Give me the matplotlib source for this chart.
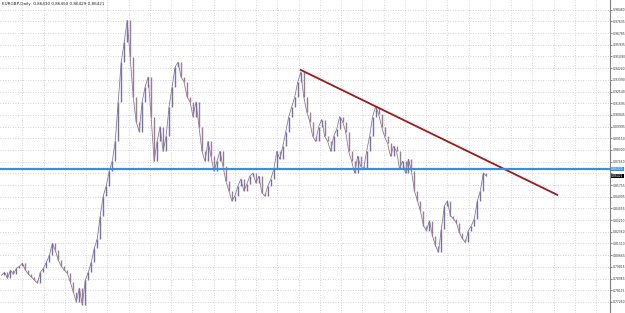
import matplotlib
matplotlib.use("Agg")
import matplotlib.pyplot as plt
import numpy as np

# ---- data ----
closes = [
    0.7920, 0.7942, 0.7899, 0.7956, 0.7928, 0.7971, 0.7985, 0.8007, 0.7956, 0.7928,
    0.7906, 0.7884, 0.7863, 0.7942, 0.7971, 0.8014, 0.8064, 0.8151, 0.8100, 0.8028,
    0.7985, 0.7956, 0.7935, 0.7870, 0.7798, 0.7726, 0.7827, 0.7704, 0.7884, 0.7942,
    0.8014, 0.8115, 0.8187, 0.8352, 0.8496, 0.8568, 0.8676, 0.8748, 0.8892, 0.9180,
    0.9468, 0.9612, 0.9771, 0.9504, 0.9216, 0.9036, 0.8964, 0.9180, 0.9288, 0.9360,
    0.9072, 0.8748, 0.8892, 0.9000, 0.8820, 0.8928, 0.9144, 0.9288, 0.9432, 0.9468,
    0.9360, 0.9324, 0.9216, 0.9180, 0.9072, 0.9180, 0.9000, 0.8820, 0.8748, 0.8892,
    0.8784, 0.8676, 0.8748, 0.8820, 0.8712, 0.8604, 0.8532, 0.8460, 0.8496, 0.8568,
    0.8619, 0.8532, 0.8583, 0.8640, 0.8662, 0.8590, 0.8640, 0.8518, 0.8496, 0.8568,
    0.8619, 0.8691, 0.8820, 0.8763, 0.8856, 0.8964, 0.9072, 0.9144, 0.9216, 0.9324,
    0.9396, 0.9216, 0.9108, 0.9036, 0.8928, 0.8892, 0.9000, 0.9051, 0.8928, 0.8892,
    0.8820, 0.8928, 0.8979, 0.9072, 0.9036, 0.8964, 0.8820, 0.8748, 0.8662, 0.8784,
    0.8712, 0.8691, 0.8820, 0.8928, 0.9072, 0.9144, 0.9094, 0.9000, 0.8928, 0.8878,
    0.8784, 0.8856, 0.8820,
    0.8691, 0.8748, 0.8662, 0.8763, 0.8676, 0.8532, 0.8460, 0.8388, 0.8280, 0.8244,
    0.8316, 0.8208, 0.8136, 0.8086, 0.8259, 0.8424, 0.8460, 0.8352, 0.8331, 0.8302,
    0.8230, 0.8187, 0.8158, 0.8244, 0.8280, 0.8331, 0.8460, 0.8532, 0.8662, 0.86421,
]
trend_x = [100, 185.7]
trend_y = [0.9411, 0.8504]
hline_price = 0.8692
last_price = 0.86421
tick_values = [0.77260, 0.78115, 0.78965, 0.79815, 0.80665, 0.81510, 0.82360, 0.83210,
               0.84055, 0.84905, 0.85755, 0.86600, 0.87450, 0.88300, 0.89150, 0.89995,
               0.90845, 0.91695, 0.92540, 0.93390, 0.94240, 0.95090, 0.95935, 0.96785,
               0.97635, 0.98480]
title = "EURGBP,Daily  0.86430 0.86450 0.86429 0.86421"

# ---- figure ----
W, H = 625, 313
fig = plt.figure(figsize=(W / 100, H / 100), dpi=100)
ax = fig.add_axes([0, 0, 610 / W, 1])
ax.set_facecolor("white")

n = len(closes)
idx = np.arange(n)
opens = [closes[0]] + closes[:-1]
lo = np.minimum(opens, closes)
hi = np.maximum(opens, closes)
up = np.array(closes) >= np.array(opens)
ax.vlines(idx[up], lo[up], hi[up], colors="#7672a6", linewidth=1.0, zorder=3)
ax.vlines(idx[~up], lo[~up], hi[~up], colors="#9e7d90", linewidth=1.0, zorder=3)
ax.plot(idx, closes, color="#8a7b9c", linewidth=0.6, zorder=2)

ax.plot(trend_x, trend_y, color="#a01818", linewidth=1.3, zorder=4)
ax.axhline(hline_price, color="#3d8fd1", linewidth=1.6, zorder=5, clip_on=False)

ax.set_xlim(-0.5, 610 / 3)
ax.set_ylim(0.7646, 0.9919)

ax.set_yticks(tick_values)
ax.set_xticks(np.arange(7, 205, 7.1))
ax.grid(True, color="#c8c8c8", linestyle=(0, (1, 2)), linewidth=0.6)
ax.tick_params(axis="x", length=0, labelbottom=False)
ax.yaxis.tick_right()
ax.tick_params(axis="y", length=1.5, width=0.5, colors="#555555", labelsize=2.2, pad=0.8,
               labelcolor="#333333")
# the tick label next to the current price is covered by the price box in the reference
labels = ["" if abs(v - last_price) < 0.003 else f"{v:.5f}" for v in tick_values]
ax.set_yticklabels(labels)
for s in ["top", "left", "bottom"]:
    ax.spines[s].set_visible(False)
ax.spines["right"].set_color("#808080")
ax.spines["right"].set_linewidth(0.8)

ax.text(0.004, 0.995, title, transform=ax.transAxes, fontsize=3.0, va="top", ha="left",
        color="#222222")

# price labels on the right
ax.text(1.002, hline_price, f"{hline_price:.5f}", transform=ax.get_yaxis_transform(),
        fontsize=2.2, va="center", ha="left", color="white",
        bbox=dict(boxstyle="square,pad=0.05", fc="#3d8fd1", ec="none"), zorder=6)
ax.text(1.002, last_price, f"{last_price:.5f}", transform=ax.get_yaxis_transform(),
        fontsize=2.2, va="center", ha="left", color="white",
        bbox=dict(boxstyle="square,pad=0.05", fc="black", ec="none"), zorder=6)

fig.savefig("out.png", dpi=100, facecolor="white")
